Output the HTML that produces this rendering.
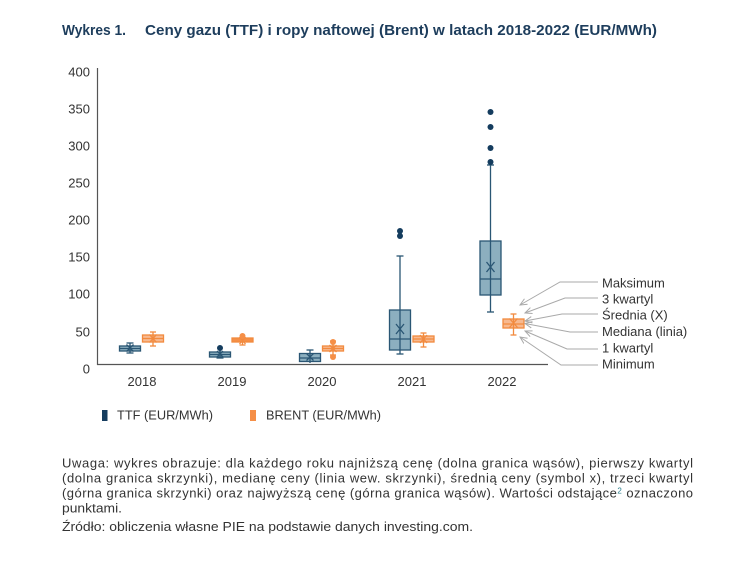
<!DOCTYPE html>
<html><head><meta charset="utf-8"><style>
html,body{margin:0;padding:0;background:#fff;}
svg{display:block;}
text{font-family:"Liberation Sans",sans-serif;}
</style></head><body>
<svg width="742" height="574" viewBox="0 0 742 574" xmlns="http://www.w3.org/2000/svg">
<defs>
<marker id="ah" markerWidth="8" markerHeight="8" refX="7" refY="4" orient="auto" markerUnits="userSpaceOnUse">
<path d="M0,0.8 L7,4 L0,7.2" fill="none" stroke="#a9a9a9" stroke-width="1"/>
</marker>
</defs>
<rect width="742" height="574" fill="#fff"/>
<!-- title -->
<text x="62" y="35" font-size="15" font-weight="bold" fill="#1d3d5c" textLength="64" lengthAdjust="spacingAndGlyphs">Wykres 1.</text>
<text x="145" y="35" font-size="15" font-weight="bold" fill="#1d3d5c" textLength="512" lengthAdjust="spacingAndGlyphs">Ceny gazu (TTF) i ropy naftowej (Brent) w latach 2018-2022 (EUR/MWh)</text>

<!-- y tick labels -->
<g font-size="13" fill="#333" text-anchor="end">
<text x="90" y="76.5">400</text>
<text x="90" y="113.5">350</text>
<text x="90" y="150.5">300</text>
<text x="90" y="187.5">250</text>
<text x="90" y="224.5">200</text>
<text x="90" y="261.5">150</text>
<text x="90" y="298.5">100</text>
<text x="90" y="336.5">50</text>
<text x="90" y="373.5">0</text>
</g>
<!-- axes -->
<line x1="97.5" y1="68" x2="97.5" y2="365" stroke="#555" stroke-width="1.2"/>
<line x1="97" y1="364.5" x2="548" y2="364.5" stroke="#555" stroke-width="1.2"/>
<!-- x labels -->
<g font-size="13" fill="#333" text-anchor="middle">
<text x="142" y="386">2018</text>
<text x="232" y="386">2019</text>
<text x="322" y="386">2020</text>
<text x="412" y="386">2021</text>
<text x="502" y="386">2022</text>
</g>

<!-- TTF boxes -->
<g stroke="#2a5674" stroke-width="1.3">
<rect x="119.5" y="346" width="21" height="5" fill="#8cafbf"/>
<line x1="130" y1="343" x2="130" y2="353"/>
<line x1="126.5" y1="343" x2="133.5" y2="343"/><line x1="126.5" y1="353" x2="133.5" y2="353"/>
<line x1="119.5" y1="348.5" x2="140.5" y2="348.5"/>
<path d="M126.5,344.5 L133.5,351.5 M133.5,344.5 L126.5,351.5" fill="none"/>

<rect x="209.5" y="352" width="21" height="5" fill="#8cafbf"/>
<line x1="220" y1="348" x2="220" y2="358"/>
<line x1="216.5" y1="358" x2="223.5" y2="358"/>
<line x1="209.5" y1="354.5" x2="230.5" y2="354.5"/>
<path d="M217,351 L223,357 M223,351 L217,357" fill="none"/>

<rect x="299.5" y="353.5" width="21" height="8" fill="#8cafbf"/>
<line x1="310" y1="350" x2="310" y2="363"/>
<line x1="306.5" y1="350" x2="313.5" y2="350"/>
<line x1="299.5" y1="358" x2="320.5" y2="358"/>
<path d="M306.5,353.5 L313.5,360.5 M313.5,353.5 L306.5,360.5" fill="none"/>

<rect x="389.5" y="310" width="21" height="40" fill="#8cafbf"/>
<line x1="400" y1="256" x2="400" y2="354"/>
<line x1="396.5" y1="256" x2="403.5" y2="256"/><line x1="396.5" y1="354" x2="403.5" y2="354"/>
<line x1="389.5" y1="339" x2="410.5" y2="339"/>
<path d="M396,324 L404,334 M404,324 L396,334" fill="none"/>

<rect x="480" y="241" width="21" height="54" fill="#8cafbf"/>
<line x1="490.5" y1="165" x2="490.5" y2="312"/>
<line x1="487" y1="165" x2="494" y2="165"/><line x1="487" y1="312" x2="494" y2="312"/>
<line x1="480" y1="279" x2="501" y2="279"/>
<path d="M486.5,262 L494.5,272 M494.5,262 L486.5,272" fill="none"/>
</g>
<g fill="#143c5e">
<circle cx="220" cy="348" r="3"/>
<circle cx="400" cy="231" r="3"/><circle cx="400" cy="236" r="3"/>
<circle cx="490.5" cy="112" r="3"/><circle cx="490.5" cy="127" r="3"/>
<circle cx="490.5" cy="148" r="3"/><circle cx="490.5" cy="162" r="3"/>
</g>

<!-- Brent boxes -->
<g stroke="#f28a3e" stroke-width="1.3">
<rect x="142.5" y="335" width="21" height="7" fill="#f7b990"/>
<line x1="153" y1="332" x2="153" y2="346"/>
<line x1="150" y1="332" x2="156" y2="332"/><line x1="150" y1="346" x2="156" y2="346"/>
<line x1="142.5" y1="338.5" x2="163.5" y2="338.5"/>
<path d="M149.5,334.5 L156.5,342.5 M156.5,334.5 L149.5,342.5" fill="none"/>

<rect x="232" y="338" width="21" height="4" fill="#f58f47"/>
<line x1="242.5" y1="334" x2="242.5" y2="345"/>
<line x1="239.5" y1="345" x2="245.5" y2="345"/>
<path d="M239.5,337 L245.5,344 M245.5,337 L239.5,344" fill="none"/>

<rect x="322.5" y="346" width="21" height="5" fill="#f7b990"/>
<line x1="333" y1="341" x2="333" y2="355"/>
<line x1="330" y1="341" x2="336" y2="341"/><line x1="330" y1="355" x2="336" y2="355"/>
<line x1="322.5" y1="348.5" x2="343.5" y2="348.5"/>
<path d="M329.5,345 L336.5,352 M336.5,345 L329.5,352" fill="none"/>

<rect x="413" y="336" width="21" height="6" fill="#f7b990"/>
<line x1="423.5" y1="333" x2="423.5" y2="347"/>
<line x1="420.5" y1="333" x2="426.5" y2="333"/><line x1="420.5" y1="347" x2="426.5" y2="347"/>
<line x1="413" y1="339" x2="434" y2="339"/>
<path d="M420,335 L427,343 M427,335 L420,343" fill="none"/>

<rect x="503" y="319" width="21" height="9" fill="#f7b990"/>
<line x1="513.5" y1="314" x2="513.5" y2="335"/>
<line x1="510.5" y1="314" x2="516.5" y2="314"/><line x1="510.5" y1="335" x2="516.5" y2="335"/>
<line x1="503" y1="324" x2="524" y2="324"/>
<path d="M509.5,318.5 L517.5,327.5 M517.5,318.5 L509.5,327.5" fill="none"/>
</g>
<g fill="#f58f47">
<circle cx="242.5" cy="336" r="3"/>
<circle cx="333" cy="342" r="3"/><circle cx="333" cy="357" r="3"/>
</g>

<!-- annotation lines -->
<g stroke="#a9a9a9" stroke-width="1" fill="none">
<polyline points="598,282 560,282 520,305" marker-end="url(#ah)"/>
<polyline points="598,298 565,298 525,313" marker-end="url(#ah)"/>
<polyline points="598,314 562,314 525,321" marker-end="url(#ah)"/>
<polyline points="598,332 570,332 525,323.5" marker-end="url(#ah)"/>
<polyline points="598,349 567,349 525,331" marker-end="url(#ah)"/>
<polyline points="598,365 561,365 520,337" marker-end="url(#ah)"/>
</g>
<g font-size="13" fill="#333">
<text x="602" y="287.5">Maksimum</text>
<text x="602" y="303.5">3 kwartyl</text>
<text x="602" y="319.5">Średnia (X)</text>
<text x="602" y="336">Mediana (linia)</text>
<text x="602" y="352.5">1 kwartyl</text>
<text x="602" y="368.5">Minimum</text>
</g>

<!-- legend -->
<rect x="102" y="410" width="5.5" height="11" fill="#163d5f"/>
<text x="117" y="419.5" font-size="13" fill="#333" textLength="96" lengthAdjust="spacingAndGlyphs">TTF (EUR/MWh)</text>
<rect x="250" y="410" width="6" height="11" fill="#f58f47"/>
<text x="266" y="419.5" font-size="13" fill="#333" textLength="115" lengthAdjust="spacingAndGlyphs">BRENT (EUR/MWh)</text>

<!-- note -->
<g font-size="13" fill="#333">
<text x="62" y="467.5" textLength="631" lengthAdjust="spacing">Uwaga: wykres obrazuje: dla każdego roku najniższą cenę (dolna granica wąsów), pierwszy kwartyl</text>
<text x="62" y="482.5" textLength="631" lengthAdjust="spacing">(dolna granica skrzynki), medianę ceny (linia wew. skrzynki), średnią ceny (symbol x), trzeci kwartyl</text>
<text x="62" y="497.5" textLength="631" lengthAdjust="spacing">(górna granica skrzynki) oraz najwyższą cenę (górna granica wąsów). Wartości odstające<tspan fill="#2a7d8c" font-size="8" dy="-4">2</tspan><tspan dy="4"> oznaczono</tspan></text>
<text x="62" y="512.5" textLength="60" lengthAdjust="spacingAndGlyphs">punktami.</text>
<text x="62" y="531" textLength="411" lengthAdjust="spacingAndGlyphs">Źródło: obliczenia własne PIE na podstawie danych investing.com.</text>
</g>
</svg>
</body></html>
